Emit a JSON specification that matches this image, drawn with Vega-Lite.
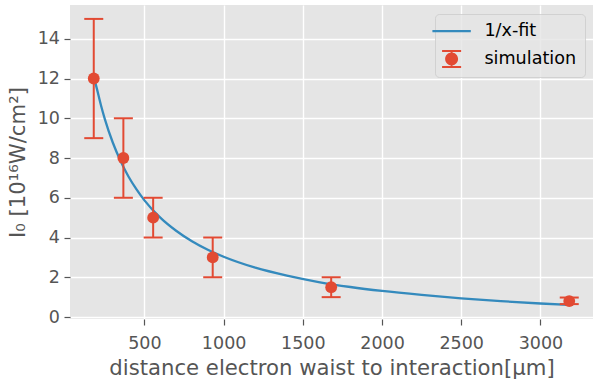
{
  "$schema": "https://vega.github.io/schema/vega-lite/v6.json",
  "autosize": "none",
  "width": 523,
  "height": 314,
  "padding": {"left": 70, "top": 5, "right": 5, "bottom": 68},
  "background": "white",
  "config": {
    "view": {"fill": "#E5E5E5", "stroke": null},
    "font": "DejaVu Sans",
    "axis": {
      "domain": false,
      "grid": true,
      "gridColor": "#FFFFFF",
      "gridWidth": 1.4,
      "gridOpacity": 1,
      "tickColor": "#555555",
      "tickWidth": 1.2,
      "tickSize": 6,
      "labelFont": "DejaVu Sans",
      "labelFontSize": 17.5,
      "labelColor": "#555555",
      "titleFont": "DejaVu Sans",
      "titleFontSize": 21.2,
      "titleFontWeight": "normal",
      "titleColor": "#555555",
      "labelFlush": false,
      "labelOverlap": false
    },
    "legend": {
      "orient": "top-right",
      "offset": 8.5,
      "padding": 8.3,
      "symbolSize": 256,
      "symbolOffset": -0.5,
      "labelOffset": 24,
      "rowPadding": 9,
      "labelFont": "DejaVu Sans",
      "labelFontSize": 17.6,
      "labelColor": "#000000",
      "fillColor": "rgba(229,229,229,0.8)",
      "strokeColor": "rgba(204,204,204,0.8)",
      "cornerRadius": 4,
      "symbolStrokeWidth": 0,
      "symbolOpacity": 1
    }
  },
  "datasets": {
    "fit": [
      {"d": 180, "I": 12.1},
      {"d": 200, "I": 11.48},
      {"d": 225, "I": 10.67},
      {"d": 250, "I": 9.96},
      {"d": 300, "I": 8.78},
      {"d": 350, "I": 7.84},
      {"d": 400, "I": 7.06},
      {"d": 450, "I": 6.42},
      {"d": 500, "I": 5.87},
      {"d": 600, "I": 5.0},
      {"d": 700, "I": 4.34},
      {"d": 800, "I": 3.81},
      {"d": 900, "I": 3.38},
      {"d": 1000, "I": 3.03},
      {"d": 1200, "I": 2.48},
      {"d": 1400, "I": 2.08},
      {"d": 1600, "I": 1.76},
      {"d": 1800, "I": 1.51},
      {"d": 2000, "I": 1.31},
      {"d": 2250, "I": 1.11},
      {"d": 2500, "I": 0.94},
      {"d": 2750, "I": 0.8},
      {"d": 3000, "I": 0.68},
      {"d": 3182, "I": 0.61}
    ],
    "sim": [
      {"d": 180, "I": 12, "lo": 9, "hi": 15, "series": "simulation"},
      {"d": 367, "I": 8, "lo": 6, "hi": 10, "series": "simulation"},
      {"d": 555, "I": 5, "lo": 4, "hi": 6, "series": "simulation"},
      {"d": 931, "I": 3, "lo": 2, "hi": 4, "series": "simulation"},
      {"d": 1679, "I": 1.5, "lo": 1, "hi": 2, "series": "simulation"},
      {"d": 3182, "I": 0.8, "lo": 0.65, "hi": 0.98, "series": "simulation"}
    ]
  },
  "encoding": {
    "x": {
      "field": "d",
      "type": "quantitative",
      "scale": {"domain": [30, 3332], "nice": false, "zero": false},
      "axis": {
        "title": "distance electron waist to interaction[μm]",
        "values": [500, 1000, 1500, 2000, 2500, 3000],
        "format": "d",
        "labelPadding": 9,
        "titlePadding": 6
      }
    }
  },
  "layer": [
    {
      "data": {"name": "fit"},
      "mark": {"type": "line", "color": "#348ABD", "strokeWidth": 2.3, "interpolate": "monotone"},
      "encoding": {
        "y": {
          "field": "I",
          "type": "quantitative",
          "scale": {"domain": [-0.1, 15.7], "nice": false, "zero": false},
          "axis": {
            "title": "I₀ [10¹⁶W/cm²]",
            "values": [0, 2, 4, 6, 8, 10, 12, 14],
            "labelPadding": 4.5,
            "titlePadding": 9
          }
        }
      }
    },
    {
      "data": {"name": "sim"},
      "mark": {"type": "rule", "color": "#E24A33", "strokeWidth": 2},
      "encoding": {
        "y": {"field": "lo", "type": "quantitative"},
        "y2": {"field": "hi"}
      }
    },
    {
      "data": {"name": "sim"},
      "mark": {"type": "tick", "orient": "horizontal", "color": "#E24A33", "size": 19, "thickness": 2, "opacity": 1},
      "encoding": {"y": {"field": "lo", "type": "quantitative"}}
    },
    {
      "data": {"name": "sim"},
      "mark": {"type": "tick", "orient": "horizontal", "color": "#E24A33", "size": 19, "thickness": 2, "opacity": 1},
      "encoding": {"y": {"field": "hi", "type": "quantitative"}}
    },
    {
      "data": {"name": "sim"},
      "mark": {"type": "point", "shape": "circle", "filled": true, "color": "#E24A33", "size": 140, "opacity": 1},
      "encoding": {"y": {"field": "I", "type": "quantitative"}}
    },
    {
      "data": {"name": "sim"},
      "transform": [{"filter": "false"}],
      "mark": {"type": "point", "filled": true, "opacity": 1},
      "encoding": {
        "y": {"field": "I", "type": "quantitative"},
        "color": {
          "field": "series",
          "type": "nominal",
          "scale": {"domain": ["1/x-fit", "simulation"], "range": ["#348ABD", "#E24A33"]},
          "legend": {"title": null}
        },
        "shape": {
          "field": "series",
          "type": "nominal",
          "scale": {
            "domain": ["1/x-fit", "simulation"],
            "range": [
              "M-2.4,-0.14H2.4V0.14H-2.4Z",
              "M-1.19,-1.125H1.19V-0.875H-1.19Z M-1.19,0.875H1.19V1.125H-1.19Z M-0.125,-1.125H0.125V1.125H-0.125Z M-0.81,0A0.81,0.81 0 1,1 0.81,0A0.81,0.81 0 1,1 -0.81,0Z"
            ]
          },
          "legend": {"title": null}
        }
      }
    }
  ]
}
